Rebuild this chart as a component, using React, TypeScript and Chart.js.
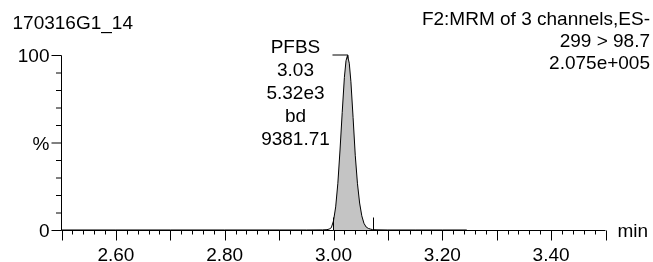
import React, { useEffect, useRef } from 'react';
import { Chart, registerables } from 'chart.js';

Chart.register(...registerables);

// ---- data ----
const retentionTimes = [
  2.5, 2.6, 2.7, 2.8, 2.9, 2.95, 2.98, 2.988, 2.992, 2.996, 3.0, 3.004, 3.008, 3.012, 3.016,
  3.02, 3.023, 3.0257, 3.029, 3.032, 3.036, 3.04, 3.044, 3.048, 3.052, 3.056, 3.06, 3.064,
  3.068, 3.072, 3.08, 3.1, 3.15, 3.2, 3.245,
];
const intensities = [
  0.3, 0.3, 0.3, 0.3, 0.3, 0.3, 0.35, 0.5, 0.8, 1.6, 5.5, 13.5, 27, 46, 67.5,
  87.5, 97, 100, 95.6, 85, 64.5, 43, 27, 15.7, 8.4, 4.1, 2.0, 1.2,
  0.8, 0.5, 0.4, 0.3, 0.3, 0.3, 0.3,
];
const integrationStart = 2.999;
const integrationEnd = 3.0723;
const apexTime = 3.0257;

const xMin = 2.5;
const xMax = 3.5;
const xLabelTicks = [2.6, 2.8, 3.0, 3.2, 3.4];
const xMajorStep = 0.1;
const xMinorStep = 0.02;
const yTickLabels = [
  { value: 0, text: '0' },
  { value: 50, text: '%' },
  { value: 100, text: '100' },
];
const yMinorStep = 10;

const headerLeft = '170316G1_14';
const headerRight = ['F2:MRM of 3 channels,ES-', '299 > 98.7', '2.075e+005'];
const peakLabel = ['PFBS', '3.03', '5.32e3', 'bd', '9381.71'];
const xUnit = 'min';

const FONT = '19px "Liberation Sans", Arial, Helvetica, sans-serif';

const overlay = {
  id: 'overlay',
  afterDraw(chart: any) {
    const { ctx, scales } = chart;
    const x = scales.x;
    const y = scales.y;
    const px0 = x.getPixelForValue(xMin);
    const px1 = x.getPixelForValue(xMax);
    const py0 = y.getPixelForValue(0);
    const py1 = y.getPixelForValue(100);
    ctx.save();
    ctx.strokeStyle = '#000';
    ctx.lineWidth = 1;
    // axes
    ctx.beginPath();
    ctx.moveTo(px0, py1);
    ctx.lineTo(px0, py0);
    ctx.lineTo(px1, py0);
    ctx.stroke();
    // y ticks
    ctx.beginPath();
    for (let v = 0; v <= 100 + 1e-9; v += yMinorStep) {
      const py = y.getPixelForValue(v);
      const major = Math.abs(v % 50) < 1e-6;
      ctx.moveTo(px0 - (major ? 10 : 5.5), py);
      ctx.lineTo(px0, py);
    }
    // x ticks
    const nMinor = Math.round((xMax - xMin) / xMinorStep);
    const ratio = Math.round(xMajorStep / xMinorStep);
    for (let i = 0; i <= nMinor; i++) {
      const v = xMin + i * xMinorStep;
      const px = Math.round(x.getPixelForValue(v)) + 0.5;
      const major = i % ratio === 0;
      ctx.moveTo(px, py0);
      ctx.lineTo(px, py0 + (major ? 10 : 4));
    }
    // integration markers
    [integrationStart, integrationEnd].forEach((t) => {
      const px = Math.round(x.getPixelForValue(t)) + 0.5;
      ctx.moveTo(px, py0);
      ctx.lineTo(px, py0 - 13);
    });
    // apex leader
    const ax = x.getPixelForValue(apexTime);
    ctx.moveTo(ax - 15, py1 - 0.5);
    ctx.lineTo(ax + 0.5, py1 - 0.5);
    ctx.lineTo(ax + 0.5, py1 + 3);
    ctx.stroke();

    // texts
    ctx.fillStyle = '#000';
    ctx.font = FONT;
    ctx.textBaseline = 'alphabetic';
    ctx.textAlign = 'right';
    yTickLabels.forEach((t) => {
      ctx.fillText(t.text, 49.5, y.getPixelForValue(t.value) + 6.8);
    });
    ctx.textAlign = 'center';
    xLabelTicks.forEach((v) => {
      ctx.fillText(v.toFixed(2), x.getPixelForValue(v), 260.5);
    });
    ctx.textAlign = 'left';
    ctx.fillText(xUnit, px1 + 12, py0 + 6.3);
    ctx.fillText(headerLeft, 12.5, 28.5);
    ctx.textAlign = 'right';
    headerRight.forEach((s, i) => ctx.fillText(s, 650, 24.5 + i * 22));
    ctx.textAlign = 'center';
    peakLabel.forEach((s, i) => ctx.fillText(s, ax - 52, 52.5 + i * 23.1));
    ctx.restore();
  },
};

export default function App() {
  const ref = useRef<HTMLCanvasElement | null>(null);
  useEffect(() => {
    if (!ref.current) return;
    const linePoints = retentionTimes.map((t, i) => ({ x: t, y: intensities[i] }));
    const fillPoints = linePoints.filter((p) => p.x >= integrationStart && p.x <= integrationEnd);
    const chart = new Chart(ref.current, {
      type: 'line',
      data: {
        datasets: [
          {
            data: linePoints,
            borderColor: '#000',
            borderWidth: 1,
            pointRadius: 0,
            tension: 0,
            fill: false,
            clip: false as any,
          },
          {
            data: fillPoints,
            borderColor: 'rgba(0,0,0,0)',
            borderWidth: 0,
            backgroundColor: '#c4c4c4',
            pointRadius: 0,
            tension: 0,
            fill: 'origin',
            clip: false as any,
          },
        ],
      },
      options: {
        animation: false,
        responsive: false,
        devicePixelRatio: 1,
        layout: { padding: { left: 61.5, right: 47.5, top: 55.5, bottom: 31.5 } },
        plugins: { legend: { display: false }, tooltip: { enabled: false }, title: { display: false } },
        scales: {
          x: { type: 'linear', display: false, min: xMin, max: xMax },
          y: { type: 'linear', display: false, min: 0, max: 100 },
        },
        events: [],
      },
      plugins: [overlay],
    });
    return () => chart.destroy();
  }, []);
  return (
    <div style={{ position: 'absolute', left: 0, top: 0, width: 653, height: 262, background: '#fff' }}>
      <canvas ref={ref} width={653} height={262} style={{ width: 653, height: 262, display: 'block' }} />
    </div>
  );
}
